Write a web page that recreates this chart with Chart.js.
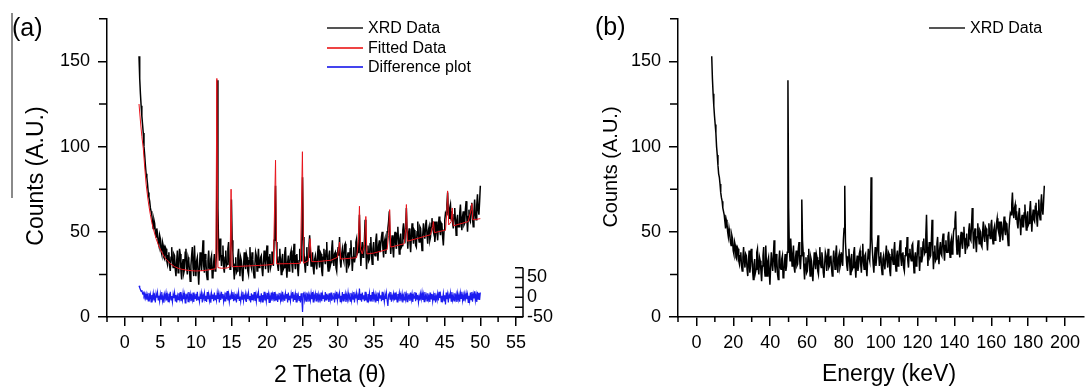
<!DOCTYPE html>
<html lang="en">
<head>
<meta charset="UTF-8">
<title>XRD data</title>
<script src="https://cdn.jsdelivr.net/npm/chart.js@4.4.1/dist/chart.umd.min.js"></script>
<style>
  body {
    margin: 0;
    background: #fff;
    font-family: Arial, "Liberation Sans", sans-serif;
    color: #000;
  }
  #wrap {
    position: relative;
    width: 1086px;
    height: 388px;
    overflow: hidden;
  }
  canvas {
    position: absolute;
    top: 0;
  }
  .txt {
    position: absolute;
    white-space: nowrap;
    line-height: 1;
  }
  .title {
    transform: translate(-50%, -50%);
  }
  .ytitle {
    transform: translate(-50%, -50%) rotate(-90deg);
  }
  .legend {
    position: absolute;
    font-size: 16px;
  }
  .legend .row {
    position: absolute;
    left: 0;
    height: 20px;
    line-height: 20px;
    padding-left: 41px;
    white-space: nowrap;
  }
  .legend .ln {
    position: absolute;
    left: 0;
    top: 9px;
    width: 36px;
    height: 2px;
  }
  #sideline {
    position: absolute;
    left: 11px;
    top: 13px;
    width: 1.5px;
    height: 185px;
    background: #8a8a8a;
  }
</style>
</head>
<body>
<div id="wrap">
  <canvas id="chartA" width="560" height="388" style="left:0"></canvas>
  <canvas id="chartB" width="526" height="388" style="left:560px"></canvas>

  <div id="sideline"></div>
  <div class="txt" style="left:12px;top:15px;font-size:25px">(a)</div>
  <div class="txt" style="left:595px;top:14px;font-size:25px">(b)</div>

  <div class="txt ytitle" style="left:35px;top:176px;font-size:23px">Counts (A.U.)</div>
  <div class="txt ytitle" style="left:610px;top:167px;font-size:20px">Counts (A.U.)</div>
  <div class="txt title" style="left:330px;top:374px;font-size:23px">2 Theta (θ)</div>
  <div class="txt title" style="left:889px;top:373px;font-size:23px">Energy (keV)</div>

  <div class="legend" style="left:327px;top:18px">
    <div class="row" style="top:0"><span class="ln" style="background:#555"></span>XRD Data</div>
    <div class="row" style="top:20px"><span class="ln" style="background:#ee4444"></span>Fitted Data</div>
    <div class="row" style="top:39px"><span class="ln" style="background:#4444ee"></span>Difference plot</div>
  </div>
  <div class="legend" style="left:929px;top:18px">
    <div class="row" style="top:0"><span class="ln" style="background:#555"></span>XRD Data</div>
  </div>
</div>

<script>
// sampling grid of the measured pattern
const THETA_START = 2.0, THETA_STEP = 0.1;
const ENERGY_START = 8.3, ENERGY_STEP = 0.376;

// measured counts, one row per degree (same pattern is plotted against 2θ and energy)
const xrdCounts = [
  153,140,131,124,118,113,108,100,95,89,
  84,82,78,73,70,68,64,62,60,56,
  52,57,55,50,47,52,49,44,42,48,
  46,39,37,44,42,35,34,41,40,33,
  31,36,38,30,27,35,41,33,29,37,
  36,28,24,33,39,26,30,40,37,27,
  22,31,34,26,28,38,40,29,25,35,
  33,27,21,30,36,41,29,24,42,31,
  24,33,35,27,19,29,38,32,27,36,
  45,30,26,37,34,25,22,33,39,29,
  28,34,36,23,24,32,37,27,30,38,
  139,64,40,33,46,38,30,36,42,29,
  26,35,39,30,31,40,44,33,28,36,
  69,45,38,29,22,31,35,26,27,36,
  40,31,24,35,33,26,21,30,38,32,
  28,37,35,27,25,33,41,31,29,38,
  34,26,23,31,38,36,27,33,40,29,
  30,35,36,28,24,32,39,34,28,37,
  42,31,26,35,37,29,31,38,38,30,
  45,52,77,44,36,30,27,35,40,32,
  25,34,37,28,29,38,41,30,23,32,
  36,27,30,37,39,31,26,35,43,32,
  28,36,37,29,24,33,40,35,33,44,
  82,47,38,31,26,35,41,30,35,42,
  48,37,30,35,38,29,25,34,36,31,
  28,36,42,33,29,38,37,27,24,35,
  40,34,31,39,44,32,27,36,39,30,
  32,40,45,34,30,37,38,29,27,36,
  41,36,47,33,29,37,40,35,33,42,
  43,34,26,35,38,30,31,40,45,36,
  27,35,41,32,35,44,46,37,38,48,
  60,41,30,39,44,35,36,45,57,40,
  28,38,42,33,34,43,47,36,31,40,
  44,37,36,45,49,39,33,42,45,38,
  38,47,50,40,35,44,46,37,41,50,
  52,56,62,45,37,44,48,40,35,46,
  50,43,40,49,53,44,37,46,49,41,
  42,51,55,46,45,54,64,50,40,49,
  52,44,38,47,55,48,43,51,50,42,
  41,50,56,47,44,53,52,45,39,48,
  55,49,46,54,57,48,43,51,53,45,
  47,55,58,52,50,56,44,49,56,50,
  45,53,59,51,48,55,54,47,42,51,
  57,61,60,66,73,62,58,64,66,57,
  62,55,52,60,64,56,48,57,60,53,
  53,61,66,57,51,59,62,54,55,63,
  68,58,50,59,63,57,56,65,67,58,
  53,62,69,60,57,66,72,63,60,68,
  77
];

// difference plot (right-hand axis of panel a), one row per degree
const diffValues = [
  29,24,20,15,18,9,12,4,10,-2,
  8,-6,5,-9,11,-3,7,-12,6,-4,
  10,-8,3,-13,9,-1,12,-7,4,-10,
  8,-5,13,-9,2,-14,7,-3,11,-8,
  5,-11,9,-4,14,-7,3,-12,8,-2,
  12,-9,6,-13,4,-6,10,-3,13,-10,
  2,-8,11,-5,7,-14,9,-1,6,-11,
  13,-4,8,-10,3,-7,12,-12,5,-3,
  9,-9,14,-6,2,-11,7,-4,10,-13,
  6,-2,11,-8,4,-12,13,-5,8,-9,
  3,-14,10,-3,7,-10,12,-6,5,-8,
  11,-4,9,-13,6,-7,14,-2,8,-11,
  4,-9,12,-5,16,-8,7,-12,3,-6,
  10,-3,13,-10,5,-7,9,-13,6,-4,
  12,-8,2,-11,8,-5,14,-9,4,-2,
  9,-12,6,-4,11,-7,3,-13,10,-6,
  7,-3,13,-9,5,-11,8,-2,12,-10,
  4,-7,10,-12,6,-4,14,-8,3,-11,
  11,-5,8,-13,2,-6,12,-9,7,-3,
  13,-10,5,-7,9,-12,4,-4,11,-8,
  6,-11,14,-5,3,-9,10,-2,8,-13,
  12,-6,4,-10,9,-3,13,-11,5,-7,
  8,-12,11,-4,6,-8,3,-13,10,-5,
  -37,9,14,-7,5,-10,12,-3,7,-11,
  4,-8,10,-5,13,-12,6,-2,9,-9,
  11,-4,7,-13,3,-6,12,-10,8,-3,
  5,-11,13,-7,9,-2,4,-12,10,-6,
  12,-9,3,-4,11,-13,7,-5,14,-8,
  6,-3,10,-11,4,-7,13,-9,8,-2,
  9,-12,5,-6,12,-4,3,-10,11,-8,
  7,-5,13,-13,6,-3,10,-9,4,-7,
  22,-6,9,-11,12,-4,5,-10,14,-8,
  3,-12,8,-5,11,-9,6,-3,13,-11,
  10,-4,7,-13,4,-8,12,-6,9,-2,
  5,-10,14,-7,3,-12,8,-4,11,-9,
  -22,6,10,-5,13,-11,4,-3,9,-8,
  12,-6,5,-12,8,-2,11,-10,6,-4,
  9,-13,3,-7,14,-5,7,-11,10,-3,
  4,-9,12,-6,8,-12,5,-2,13,-10,
  11,-5,6,-13,3,-8,9,-4,12,-7,
  7,-11,13,-3,5,-9,10,-6,4,-12,
  12,-4,8,-10,6,-7,11,-13,3,-5,
  9,-8,14,-2,7,-11,4,-6,10,-9,
  5,-18,12,-5,8,-13,6,-3,11,-10,
  13,-7,4,-9,10,-4,7,-12,9,-6,
  6,-11,11,-3,14,-8,5,-10,8,-4,
  10,-5,7,-13,4,-9,12,-6,13,-11,
  8,-3,15,-8,6,-12,14,-5,11,-7,
  12
];

// fitted curve
const fitTheta = [
  2.0,2.2,2.4,2.6,2.8,3.0,3.2,3.4,3.6,3.8,4.0,4.4,4.8,5.2,5.6,6.0,6.5,7.0,7.5,8.0,
  9.0,10,11,12,12.8,12.95,13.1,13.6,14.4,14.8,14.95,15.1,16,18,20,20.9,21.2,21.35,23,24.7,
  24.98,25.15,25.8,26.05,26.3,27,29,29.9,30.2,30.35,32.6,32.85,33.0,33.15,33.4,33.7,33.9,34.05,35,36.9,
  37.1,37.25,37.4,39.3,39.5,39.6,39.75,41.5,43.0,43.3,43.4,43.55,45.1,45.3,45.4,45.55,45.9,46.05,46.2,48.3,
  48.7,48.8,48.95,50
];
const fitCounts = [
  125,115,106,99,88,78,71,65,60,55.5,52,46,41.5,38,35,33,31,29.6,28.6,28,
  27.3,27,27.2,27.8,28.3,140,29,28.6,28.8,29.5,75,29.5,29.7,30.1,30.5,31,92,31.2,31.3,31.5,
  97,31.6,33,46,32.5,32.5,33.3,35,44,34,34.8,45,65,40,37,42,59,37,37.5,39.6,
  48,63,41,43,52,66,44.5,46.5,48.3,53,56,49.5,51,62,74,54,56,64,53.5,56,
  63,66.5,57,57.7
];

// axis ticks
const thetaMajorTicks = [0,5,10,15,20,25,30,35,40,45,50,55];
const thetaMinorTicks = [-2.5,2.5,7.5,12.5,17.5,22.5,27.5,32.5,37.5,42.5,47.5,52.5];
const energyMajorTicks = [0,20,40,60,80,100,120,140,160,180,200];
const energyMinorTicks = [-10,10,30,50,70,90,110,130,150,170,190];
const countsMajorTicks = [0,50,100,150];
const countsMinorTicks = [25,75,125,175];
const diffLabelTicks = [-50,0,50];
const diffTicks = [-50,-25,0,25,50,75];

const thetaGrid = xrdCounts.map((_, i) => +(THETA_START + i * THETA_STEP).toFixed(2));
const energyGrid = xrdCounts.map((_, i) => +(ENERGY_START + i * ENERGY_STEP).toFixed(3));
const pts = (xs, ys) => ys.map((y, i) => ({ x: xs[i], y: y }));
const useTicks = (vals) => (s) => { s.ticks = vals.map(v => ({ value: v })); };

const FONT = 'Arial, "Liberation Sans", sans-serif';
Chart.defaults.font.family = FONT;
Chart.defaults.color = '#000';

const tickFont = { family: FONT, size: 18 };
const grid = { drawOnChartArea: false, tickLength: 9, color: '#000', lineWidth: 1.5 };
const border = { color: '#000', width: 1.5 };

// short ticks between the labelled ones
const minorTicks = {
  id: 'minorTicks',
  afterDraw(chart, args, opts) {
    const { ctx, chartArea } = chart;
    ctx.save();
    ctx.strokeStyle = '#000';
    ctx.lineWidth = 1.5;
    ctx.beginPath();
    opts.x.forEach(v => {
      const px = chart.scales.x.getPixelForValue(v);
      ctx.moveTo(px, chartArea.bottom);
      ctx.lineTo(px, chartArea.bottom + opts.xLen);
    });
    opts.y.forEach(v => {
      const py = chart.scales.y.getPixelForValue(v);
      ctx.moveTo(chartArea.left, py);
      ctx.lineTo(chartArea.left - opts.yLen, py);
    });
    ctx.stroke();
    ctx.restore();
  }
};

// short right-hand axis for the difference plot, ticks point inwards
const diffAxis = {
  id: 'diffAxis',
  afterDraw(chart) {
    const s = chart.scales.y2;
    const ctx = chart.ctx;
    const x = chart.chartArea.right;
    ctx.save();
    ctx.strokeStyle = '#000';
    ctx.lineWidth = 1.5;
    ctx.beginPath();
    ctx.moveTo(x, s.getPixelForValue(diffTicks[0]));
    ctx.lineTo(x, s.getPixelForValue(diffTicks[diffTicks.length - 1]));
    diffTicks.forEach(v => {
      const py = s.getPixelForValue(v);
      ctx.moveTo(x, py);
      ctx.lineTo(x - 8, py);
    });
    ctx.stroke();
    ctx.restore();
  }
};

const common = {
  responsive: false,
  animation: false,
  devicePixelRatio: 1,
  layout: { padding: { top: 15, left: 0, right: 0, bottom: 0 } },
  elements: { point: { radius: 0 }, line: { tension: 0, borderWidth: 1 } },
};

new Chart(document.getElementById('chartA'), {
  type: 'line',
  data: {
    datasets: [
      { label: 'XRD Data', data: pts(thetaGrid, xrdCounts), borderColor: '#000', borderWidth: 1.5, order: 2, yAxisID: 'y' },
      { label: 'Fitted Data', data: pts(fitTheta, fitCounts), borderColor: '#e8141c', order: 1, yAxisID: 'y' },
      { label: 'Difference plot', data: pts(thetaGrid, diffValues), borderColor: '#1c1cf0', borderWidth: 1.2, order: 0, yAxisID: 'y2' }
    ]
  },
  plugins: [minorTicks, diffAxis],
  options: {
    ...common,
    plugins: {
      legend: { display: false },
      tooltip: { enabled: false },
      minorTicks: { x: thetaMinorTicks, y: countsMinorTicks, xLen: 5, yLen: 8 }
    },
    scales: {
      x: {
        type: 'linear', min: -2.5, max: 56,
        grid: grid, border: border,
        ticks: { autoSkip: false, maxRotation: 0, padding: 6, font: tickFont },
        afterBuildTicks: useTicks(thetaMajorTicks),
        afterFit: s => { s.height = 71; }
      },
      y: {
        min: 0, max: 175,
        grid: grid, border: border,
        ticks: { autoSkip: false, padding: 8, font: tickFont },
        afterBuildTicks: useTicks(countsMajorTicks),
        afterFit: s => { s.width = 107; }
      },
      y2: {
        position: 'right', min: -50, max: 705,
        grid: { drawOnChartArea: false, drawTicks: false },
        border: { display: false },
        ticks: { autoSkip: false, padding: 4, font: tickFont },
        afterBuildTicks: useTicks(diffLabelTicks),
        afterFit: s => { s.width = 37; }
      }
    }
  }
});

new Chart(document.getElementById('chartB'), {
  type: 'line',
  data: {
    datasets: [
      { label: 'XRD Data', data: pts(energyGrid, xrdCounts), borderColor: '#000', borderWidth: 1.5 }
    ]
  },
  plugins: [minorTicks],
  options: {
    ...common,
    plugins: {
      legend: { display: false },
      tooltip: { enabled: false },
      minorTicks: { x: energyMinorTicks, y: countsMinorTicks, xLen: 5, yLen: 8 }
    },
    scales: {
      x: {
        type: 'linear', min: -10, max: 210,
        grid: grid, border: border,
        ticks: { autoSkip: false, maxRotation: 0, padding: 6, font: tickFont },
        afterBuildTicks: useTicks(energyMajorTicks),
        afterFit: s => { s.height = 71; }
      },
      y: {
        min: 0, max: 175,
        grid: grid, border: border,
        ticks: { autoSkip: false, padding: 8, font: tickFont },
        afterBuildTicks: useTicks(countsMajorTicks),
        afterFit: s => { s.width = 118; }
      }
    }
  }
});
</script>
</body>
</html>
